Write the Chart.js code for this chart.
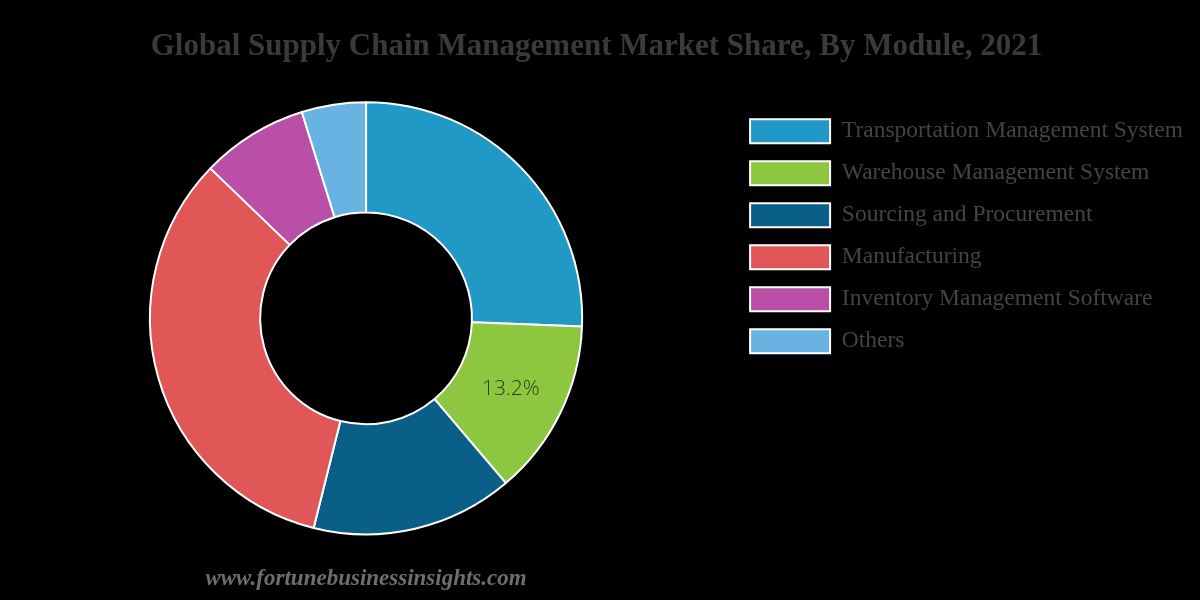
<!DOCTYPE html>
<html>
<head>
<meta charset="utf-8">
<script src="https://cdn.jsdelivr.net/npm/chart.js@4"></script>
<style>
  html, body { margin: 0; padding: 0; background: #000; }
  canvas { display: block; }
</style>
</head>
<body>
<canvas id="module-chart" width="1200" height="600"></canvas>
<script>
const modules = [
    "Transportation Management System",
    "Warehouse Management System",
    "Sourcing and Procurement",
    "Manufacturing",
    "Inventory Management Software",
    "Others",
];
const shares = [25.6, 13.2, 15.1, 33.3, 8.0, 4.8];
const moduleColors = ["#2199c6", "#8dc63f", "#0a5f88", "#e15656", "#b94fa6", "#69b3e3"];
// only the warehouse slice carries a value label in the picture
const labelledSlices = [1];

// draws the percentage on the labelled slices
const sliceLabels = {
    id: "sliceLabels",
    afterDatasetsDraw(chart) {
        const ctx = chart.ctx;
        const meta = chart.getDatasetMeta(0);
        ctx.save();
        ctx.font = "300 21px 'Open Sans', sans-serif";
        ctx.fillStyle = "#2e3a1c";
        ctx.textAlign = "center";
        ctx.textBaseline = "middle";
        labelledSlices.forEach(function (i) {
            const pos = meta.data[i].tooltipPosition();
            ctx.fillText(shares[i].toFixed(1) + "%", pos.x, pos.y);
        });
        ctx.restore();
    },
};

const config = {
    type: "doughnut",
    data: {
        labels: modules,
        datasets: [
            {
                data: shares,
                backgroundColor: moduleColors,
                borderColor: "#ffffff",
                borderWidth: 2,
            },
        ],
    },
    plugins: [sliceLabels],
    options: {
        responsive: false,
        animation: false,
        cutout: "49%",
        layout: {
            padding: { left: 0, right: 7, top: 0, bottom: 0 },
        },
        plugins: {
            tooltip: { enabled: false },
            title: {
                display: true,
                text: "Global Supply Chain Management Market Share, By Module, 2021",
                color: "#3a3a3a",
                font: { family: "'Liberation Serif', serif", size: 31, weight: "bold", lineHeight: 1.2 },
                padding: { top: 28, bottom: 36 },
            },
            subtitle: {
                display: true,
                position: "bottom",
                fullSize: false,
                text: "www.fortunebusinessinsights.com",
                color: "#6e6e6e",
                font: { family: "'Liberation Serif', serif", size: 23, weight: "bold", style: "italic", lineHeight: 1.2 },
                padding: { top: 30, bottom: 7 },
            },
            legend: {
                position: "right",
                align: "start",
                fullSize: false,
                labels: {
                    boxWidth: 80,
                    boxHeight: 24,
                    padding: 18,
                    color: "#444444",
                    font: { family: "'Liberation Serif', serif", size: 23.5 },
                },
            },
        },
    },
};

new Chart(document.getElementById("module-chart"), config);
</script>
</body>
</html>
